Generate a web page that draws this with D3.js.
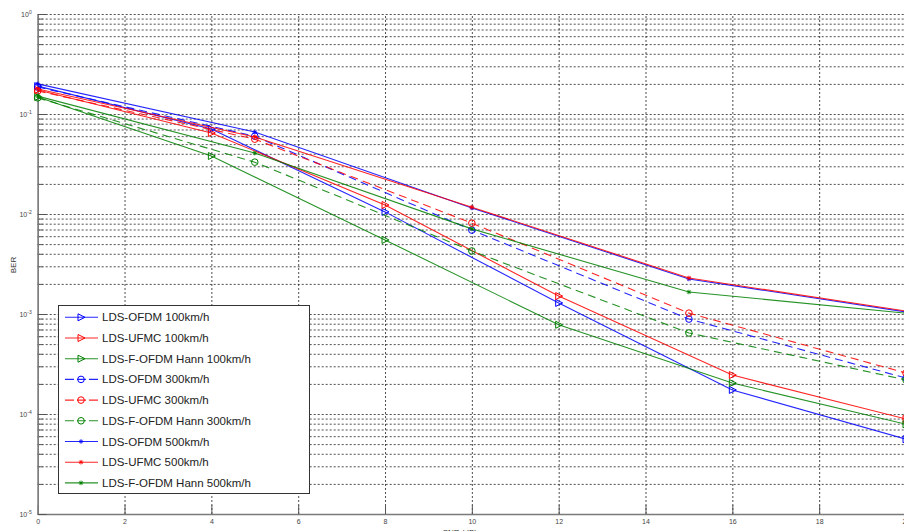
<!DOCTYPE html>
<meta charset="utf-8">
<body style="margin:0;background:#fff">
<script src="https://cdn.jsdelivr.net/npm/d3@7"></script>
<style>
svg { display:block; font-family: "Liberation Sans", Arial, sans-serif; }
.grid line { stroke:#222; stroke-dasharray:2,2; stroke-width:0.8; }
.grid path { display:none; }
.ax path { stroke:#7a7a7a; stroke-width:1.3; }
.ax line { stroke:#555; }
.ax text { fill:#444; font-size:7px; }
</style>
<svg id="thesvg" width="904" height="531"></svg>
<script>
// snr points, different for each speed
var snr100 = [0, 4, 8, 12, 16, 20];
var snr300 = [0, 5, 10, 15, 20];
var snr500 = [0, 5, 10, 15, 20];

// BER values
var ofdm100  = [0.19, 0.0708, 0.0105, 1.29e-3, 1.74e-4, 5.6e-5];
var ufmc100  = [0.174, 0.0646, 0.0123, 1.51e-3, 2.45e-4, 8.9e-5];
var fofdm100 = [0.148, 0.038, 5.5e-3, 7.8e-4, 2.04e-4, 7.9e-5];

var ofdm300  = [0.186, 0.060, 6.9e-3, 8.9e-4, 2.29e-4];
var ufmc300  = [0.170, 0.056, 8.1e-3, 1.02e-3, 2.57e-4];
var fofdm300 = [0.145, 0.033, 4.27e-3, 6.46e-4, 2.19e-4];

var ofdm500  = [0.200, 0.066, 0.0115, 2.24e-3, 1.05e-3];
var ufmc500  = [0.178, 0.059, 0.0117, 2.29e-3, 1.07e-3];
var fofdm500 = [0.151, 0.0407, 7.1e-3, 1.66e-3, 1.02e-3];

var xTicks = [0, 2, 4, 6, 8, 10, 12, 14, 16, 18, 20];
var yDecades = [1e-5, 1e-4, 1e-3, 1e-2, 1e-1, 1];
var yExps = ["-5", "-4", "-3", "-2", "-1", "0"];

var series = [
  {name:"LDS-OFDM 100km/h", x:snr100, y:ofdm100, c:"#0000ff", dash:null, mk:"tri"},
  {name:"LDS-UFMC 100km/h", x:snr100, y:ufmc100, c:"#ff0000", dash:null, mk:"tri"},
  {name:"LDS-F-OFDM Hann 100km/h", x:snr100, y:fofdm100, c:"#008000", dash:null, mk:"tri"},
  {name:"LDS-OFDM 300km/h", x:snr300, y:ofdm300, c:"#0000ff", dash:"8,5", mk:"circ"},
  {name:"LDS-UFMC 300km/h", x:snr300, y:ufmc300, c:"#ff0000", dash:"8,5", mk:"circ"},
  {name:"LDS-F-OFDM Hann 300km/h", x:snr300, y:fofdm300, c:"#008000", dash:"8,5", mk:"circ"},
  {name:"LDS-OFDM 500km/h", x:snr500, y:ofdm500, c:"#0000ff", dash:null, mk:"star"},
  {name:"LDS-UFMC 500km/h", x:snr500, y:ufmc500, c:"#ff0000", dash:null, mk:"star"},
  {name:"LDS-F-OFDM Hann 500km/h", x:snr500, y:fofdm500, c:"#008000", dash:null, mk:"star"}
];

var L = 37.7, R = 906, T = 14, B = 514;
var x = d3.scaleLinear().domain([0, 20]).range([L, R]);
var y = d3.scaleLog().domain([1e-5, 1]).range([B, T]);

var svg = d3.select("#thesvg");

// minor log values (2..9 in each decade)
var yMinor = [];
yDecades.slice(0, 5).forEach(function(d){
  for (var k = 2; k < 10; k++) yMinor.push(d * k);
});

// grid
svg.append("g").attr("class", "grid")
  .attr("transform", "translate(" + L + ",0)")
  .call(d3.axisLeft(y).tickValues(yDecades.concat(yMinor)).tickSize(-(R - L)).tickFormat(""));
svg.append("g").attr("class", "grid")
  .attr("transform", "translate(0," + B + ")")
  .call(d3.axisBottom(x).tickValues(xTicks.slice(1)).tickSize(-(B - T)).tickFormat(""));

// axes with inward ticks
var xa = svg.append("g").attr("class", "ax")
  .attr("transform", "translate(0," + B + ")")
  .call(d3.axisBottom(x).tickValues(xTicks).tickSizeInner(-9).tickSizeOuter(0).tickPadding(4));
xa.selectAll("text").attr("dy", "0.9em");

svg.append("g").attr("class", "ax")
  .attr("transform", "translate(" + L + ",0)")
  .call(d3.axisLeft(y).tickValues(yMinor).tickSizeInner(-5).tickSizeOuter(0).tickFormat(""));

var ya = svg.append("g").attr("class", "ax")
  .attr("transform", "translate(" + L + ",0)")
  .call(d3.axisLeft(y).tickValues(yDecades).tickSizeInner(-9).tickSizeOuter(0).tickPadding(6).tickFormat(""));
ya.selectAll(".tick text").each(function(d, i){
  var t = d3.select(this).text("10");
  t.append("tspan").attr("dy", "-0.6em").style("font-size", "5px").text(yExps[i]);
});

// axis titles (bottom one is cut by the window edge, like the original)
svg.append("text").attr("x", (L + R) / 2 - 12).attr("y", 535)
  .attr("text-anchor", "middle").style("font-size", "8px").attr("fill", "#333").text("SNR (dB)");
svg.append("text").attr("transform", "translate(16,265) rotate(-90)")
  .attr("text-anchor", "middle").style("font-size", "8px").attr("fill", "#333").text("BER");

// markers
function drawMarker(g, mk, c, px, py) {
  if (mk == "tri") {
    g.append("path").attr("d", "M" + (px - 3) + "," + (py - 3.5) + "L" + (px + 4) + "," + py + "L" + (px - 3) + "," + (py + 3.5) + "Z")
      .attr("fill", "none").attr("stroke", c).attr("stroke-width", 1);
  } else if (mk == "circ") {
    g.append("circle").attr("cx", px).attr("cy", py).attr("r", 3.3)
      .attr("fill", "none").attr("stroke", c).attr("stroke-width", 1);
  } else {
    var r = 2.3, q = 1.6;
    g.append("path").attr("d", "M" + (px - r) + "," + py + "h" + (2 * r) + "M" + px + "," + (py - r) + "v" + (2 * r) +
        "M" + (px - q) + "," + (py - q) + "l" + (2 * q) + "," + (2 * q) + "M" + (px - q) + "," + (py + q) + "l" + (2 * q) + "," + (-2 * q))
      .attr("fill", "none").attr("stroke", c).attr("stroke-width", 0.9);
  }
}

var line = d3.line().x(function(d){ return x(d[0]); }).y(function(d){ return y(d[1]); });

series.forEach(function(s){
  var pts = s.x.map(function(v, i){ return [v, s.y[i]]; });
  var g = svg.append("g");
  g.append("path").attr("d", line(pts)).attr("fill", "none")
    .attr("stroke", s.c).attr("stroke-width", 1.1).attr("stroke-opacity", 0.85)
    .attr("stroke-dasharray", s.dash);
  pts.forEach(function(p){ drawMarker(g, s.mk, s.c, x(p[0]), y(p[1])); });
});

// legend
var lg = svg.append("g");
lg.append("rect").attr("x", 58.5).attr("y", 305.5).attr("width", 251).attr("height", 188)
  .attr("fill", "#fff").attr("stroke", "#333").attr("stroke-width", 1);
series.forEach(function(s, i){
  var ly = 317.3 + i * 20.7;
  lg.append("line").attr("x1", 65).attr("x2", 98).attr("y1", ly).attr("y2", ly)
    .attr("stroke", s.c).attr("stroke-width", 1.1).attr("stroke-opacity", 0.85)
    .attr("stroke-dasharray", s.dash ? "9,3" : null);
  drawMarker(lg, s.mk, s.c, 81, ly);
  lg.append("text").attr("x", 102).attr("y", ly + 4).style("font-size", "11.5px")
    .attr("fill", "#222").text(s.name);
});
</script>
</body>
